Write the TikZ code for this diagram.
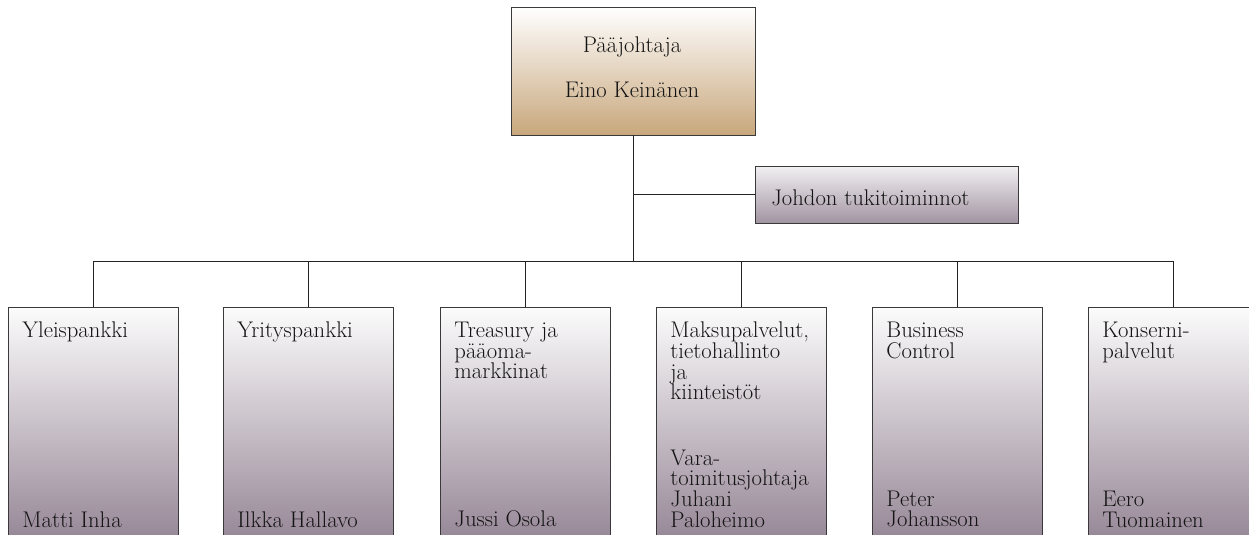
\documentclass[tikz,border=0pt]{standalone}
\usepackage{fontspec}

\definecolor{chieftan}{RGB}{200,167,124}
\definecolor{unittop}{RGB}{252,252,252}
\definecolor{unitmauve}{RGB}{148,132,148}
\definecolor{supporttop}{RGB}{242,240,242}
\definecolor{supportmauve}{RGB}{162,148,162}
\definecolor{edgegray}{RGB}{58,58,58}
\definecolor{linegray}{RGB}{35,35,35}

\tikzset{
  orgbox/.style={draw=edgegray, line width=0.7pt, inner sep=0pt},
  unit/.style={orgbox, minimum width=127.5pt, minimum height=178.5pt,
    top color=unittop, bottom color=unitmauve},
  orgtext/.style={inner sep=0pt, align=left, text=black!92,
    font=\fontsize{17}{15.5}\selectfont},
  wire/.style={draw=linegray, line width=0.75pt},
}

\begin{document}
\begin{tikzpicture}[x=0.75pt, y=-0.75pt]
\useasboundingbox (0,0) rectangle (1249,535);
\coordinate (bar) at (633,261); % the long horizontal line
% top of the chart
\node [orgbox, minimum width=183pt, minimum height=96pt,
  top color=white, bottom color=chieftan] (chief) at (633,71) {};
\node [orgtext, anchor=base] (chieftitle) at (632,53) {Pääjohtaja};
\node [orgtext, anchor=base] (chiefname) at (632,98) {Eino Keinänen};
\node [orgbox, minimum width=197.25pt, minimum height=42.75pt,
  top color=supporttop, bottom color=supportmauve] (support) at (886.5,194.5) {};
\node [orgtext, anchor=base west] (supporttext) at (771,205) {Johdon tukitoiminnot};
% units, the boxes run past the bottom edge
\foreach \u/\x/\head/\name in {
  yleis/93/{Yleispankki}/{Matti Inha},
  yritys/308/{Yrityspankki}/{Ilkka Hallavo},
  treasury/525/{Treasury ja\\pääoma-\\markkinat}/{Jussi Osola},
  maksu/741/{Maksupalvelut,\\tietohallinto\\ja\\kiinteistöt}/{Vara-\\toimitusjohtaja\\Juhani\\Paloheimo},
  business/957/{Business\\Control}/{Peter\\Johansson},
  konserni/1173/{Konserni-\\palvelut}/{Eero\\Tuomainen}}{
  \node [unit] (\u) at (\x,426) {};
  \node [orgtext, anchor=north west] (\u head) at ([xshift=11pt, yshift=-11.5pt]\u.north west) {\head};
  \node [orgtext, anchor=south west] (\u name) at ([xshift=11pt, yshift=13.5pt]\u.south west) {\name};
}
% connectors
\draw [wire] (chief.south) -- (bar);
\draw [wire] (bar |- support.west) -- (support.west);
\draw [wire] (yleis.north) -- (yleis.north |- bar) -- (konserni.north |- bar) -- (konserni.north);
\foreach \u in {yritys, treasury, maksu, business}
  \draw [wire] (\u.north) -- (\u.north |- bar);
\end{tikzpicture}
\end{document}
